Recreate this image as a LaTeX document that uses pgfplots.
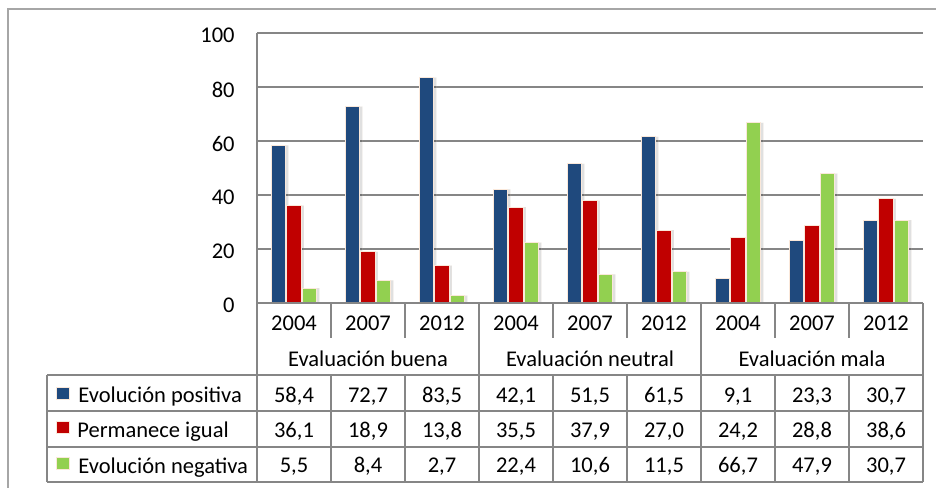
\documentclass[border=0pt]{standalone}
\usepackage{pgfplots}
\pgfplotsset{compat=1.18}
\usepackage{pgfplotstable}
\usepackage{fontspec}
\setmainfont{Carlito}
\usetikzlibrary{shadows}

\definecolor{cpos}{RGB}{31,73,125}
\definecolor{cneu}{RGB}{192,0,0}
\definecolor{cneg}{RGB}{146,208,80}
\definecolor{gridc}{RGB}{134,134,134}
\definecolor{framec}{RGB}{166,166,166}
\definecolor{edgec}{RGB}{250,232,218}

\pgfplotstableread{
x pos neu neg
0 58.4 36.1 5.5
1 72.7 18.9 8.4
2 83.5 13.8 2.7
3 42.1 35.5 22.4
4 51.5 37.9 10.6
5 61.5 27.0 11.5
6 9.1 24.2 66.7
7 23.3 28.8 47.9
8 30.7 38.6 30.7
}\data

\pgfplotsset{
  barstyle/.style={ybar, bar width=0.2, draw=edgec, line width=0.5pt,
    drop shadow={shadow xshift=1.2pt, shadow yshift=0pt, opacity=0.12, fill=black}},
  valrow/.style={draw=none, mark=none, point meta=explicit,
    nodes near coords={\pgfmathprintnumber[fixed,fixed zerofill,precision=1,use comma,assume math mode=true]{\pgfplotspointmeta}},
    every node near coord/.append style={anchor=base, inner sep=0pt, text=black}},
}

\begin{document}
\fontsize{11.25}{13.5}\selectfont
\begin{tikzpicture}[x=0.5pt,y=-0.5pt]
\begin{axis}[
  at={(128.5pt,-151.5pt)}, anchor=south west,
  width=333pt, height=135pt, scale only axis,
  xmin=-0.5, xmax=8.5, ymin=0, ymax=100,
  clip=false,
  axis line style={draw=none},
  major tick length=0pt,
  xtick={0,...,8},
  xticklabels={2004,2007,2012,2004,2007,2012,2004,2007,2012},
  xticklabel style={anchor=base, yshift=-13.5pt, inner sep=0pt},
  ytick={0,20,40,60,80,100},
  yticklabel style={anchor=east, xshift=-11pt, yshift=-1.25pt, inner sep=0pt},
  ymajorgrids,
  major grid style={line width=0.75pt, gridc},
  /pgf/number format/assume math mode=true,
]
\addplot[barstyle, bar shift=-0.21, fill=cpos] table[x=x,y=pos]{\data};
\addplot[barstyle, bar shift=0, fill=cneu] table[x=x,y=neu]{\data};
\addplot[barstyle, bar shift=0.21, fill=cneg] table[x=x,y=neg]{\data};
\addplot[valrow] table[x=x, y expr=-36.67, meta=pos]{\data};
\addplot[valrow] table[x=x, y expr=-49.63, meta=neu]{\data};
\addplot[valrow] table[x=x, y expr=-62.96, meta=neg]{\data};
\end{axis}

% outer frame
\draw[framec, line width=0.75pt] (8,490) -- (8,9) -- (940,9);
% table lines
\begin{scope}[gridc, line width=0.75pt]
\draw (257,33) -- (257,482);
\draw (257,303) -- (923,303);
\foreach \xx in {331,405,553,627,775,849} {
  \draw (\xx,303) -- (\xx,338);
  \draw (\xx,375) -- (\xx,482);
}
\foreach \xx in {479,701,923} { \draw (\xx,303) -- (\xx,482); }
\draw (47,375) -- (47,482);
\foreach \yy in {375,411,447,482} { \draw (47,\yy) -- (923,\yy); }
\end{scope}

% group labels
\node[anchor=base, inner sep=0pt] at (368,366) {Evaluación buena};
\node[anchor=base, inner sep=0pt] at (590,366) {Evaluación neutral};
\node[anchor=base, inner sep=0pt] at (812,366) {Evaluación mala};

% legend keys and names
\filldraw[fill=cpos, draw=edgec, line width=0.5pt] (56,387) rectangle (69,399);
\filldraw[fill=cneu, draw=edgec, line width=0.5pt] (56,421) rectangle (69,433);
\filldraw[fill=cneg, draw=edgec, line width=0.5pt] (56,457) rectangle (69,469);
\node[anchor=base west, inner sep=0pt] at (78,402) {Evolución positiva};
\node[anchor=base west, inner sep=0pt] at (77,437) {Permanece igual};
\node[anchor=base west, inner sep=0pt] at (78,473) {Evolución negativa};

\pgfresetboundingbox
\path[use as bounding box] (0,0) rectangle (936,487);
\end{tikzpicture}
\end{document}
